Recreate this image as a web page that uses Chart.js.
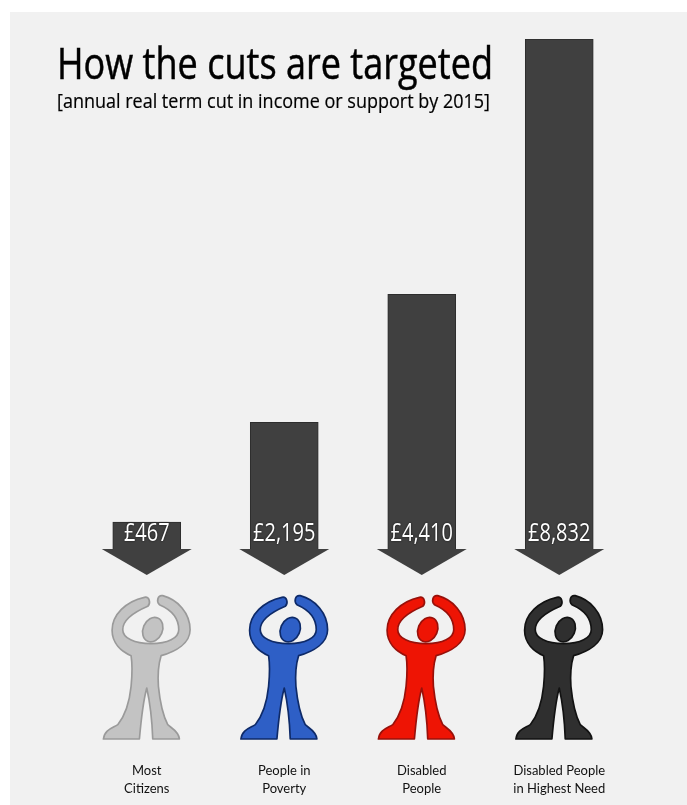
<!DOCTYPE html>
<html>
<head>
<meta charset="utf-8">
<title>How the cuts are targeted</title>
<style>
  html, body { margin: 0; padding: 0; background: #fff; }
  #wrap { position: relative; width: 687px; height: 805px; }
  canvas { display: block; }
</style>
<script src="https://cdn.jsdelivr.net/npm/chart.js@4"></script>
</head>
<body>
<div id="wrap"><canvas id="cuts" width="687" height="805"></canvas></div>
<script>
const categories = [
  ["Most", "Citizens"],
  ["People in", "Poverty"],
  ["Disabled", "People"],
  ["Disabled People", "in Highest Need"],
];
const cutValues = [467, 2195, 4410, 8832];
const valueLabels = ["£467", "£2,195", "£4,410", "£8,832"];
const figureFills = ["#c3c3c3", "#2e5fc6", "#ee1404", "#2f2f2f"];
const figureLines = ["#9a9a9a", "#0e2a68", "#98100a", "#121212"];

const BAR_FILL = "#404040";
const BAR_LINE = "#2d2d2d";

// little person with raised arms, drawn around (0,0) = under the arrow tip, feet at y=0
function drawFigure(ctx, cx, feetY, fill, line) {
  ctx.save();
  ctx.translate(cx, feetY);
  ctx.scale(1 / 3, 1 / 3);
  ctx.translate(-172, -718);
  ctx.beginPath();
  ctx.moveTo(165, 293);
  ctx.bezierCurveTo(110, 305, 68, 345, 68, 392);
  ctx.bezierCurveTo(68, 430, 95, 455, 125, 468);
  ctx.bezierCurveTo(130, 500, 128, 530, 125, 560);
  ctx.bezierCurveTo(120, 610, 105, 650, 85, 675);
  ctx.bezierCurveTo(70, 685, 45, 690, 42, 718);
  ctx.lineTo(150, 718);
  ctx.bezierCurveTo(155, 660, 160, 610, 172, 565);
  ctx.bezierCurveTo(182, 610, 188, 660, 190, 718);
  ctx.lineTo(270, 718);
  ctx.bezierCurveTo(268, 695, 245, 685, 235, 675);
  ctx.bezierCurveTo(222, 650, 212, 610, 207, 560);
  ctx.bezierCurveTo(205, 530, 205, 500, 215, 468);
  ctx.bezierCurveTo(260, 455, 302, 430, 302, 390);
  ctx.bezierCurveTo(302, 340, 265, 300, 220, 288);
  ctx.bezierCurveTo(205, 285, 200, 305, 210, 315);
  ctx.bezierCurveTo(245, 330, 268, 355, 268, 390);
  ctx.bezierCurveTo(268, 415, 235, 432, 185, 432);
  ctx.bezierCurveTo(135, 432, 100, 415, 100, 390);
  ctx.bezierCurveTo(100, 360, 140, 335, 175, 320);
  ctx.bezierCurveTo(185, 310, 180, 290, 165, 293);
  ctx.closePath();
  ctx.fillStyle = fill;
  ctx.strokeStyle = line;
  ctx.lineWidth = 5;
  ctx.lineJoin = "round";
  ctx.fill();
  ctx.stroke();
  // head
  ctx.beginPath();
  ctx.ellipse(190, 390, 29, 38, 0.4, 0, Math.PI * 2);
  ctx.fill();
  ctx.stroke();
  ctx.restore();
}

// text squeezed horizontally to a set width, the installed fonts run wide
function drawSqueezed(ctx, text, x, y, width) {
  const natural = ctx.measureText(text).width;
  ctx.save();
  ctx.translate(x, y);
  ctx.scale(width / natural, 1);
  ctx.fillText(text, 0, 0);
  ctx.strokeText(text, 0, 0);
  ctx.restore();
}

const cutsDecor = {
  id: "cutsDecor",
  beforeDraw(chart) {
    const { ctx, width, height } = chart;
    ctx.save();
    ctx.fillStyle = "#f1f1f1";
    ctx.fillRect(10, 12, width - 10, height - 12);
    ctx.restore();
  },
  afterDatasetsDraw(chart) {
    const { ctx } = chart;
    const base = chart.scales.y.getPixelForValue(0);
    const bars = chart.getDatasetMeta(0).data;

    bars.forEach((bar, i) => {
      // arrow head under each bar
      ctx.beginPath();
      ctx.moveTo(bar.x - 45, base);
      ctx.lineTo(bar.x + 45, base);
      ctx.lineTo(bar.x, base + 26);
      ctx.closePath();
      ctx.fillStyle = BAR_FILL;
      ctx.fill();

      drawFigure(ctx, bar.x, base + 190, figureFills[i], figureLines[i]);

      // amount on the bar
      ctx.save();
      ctx.font = '25px "Open Sans"';
      ctx.textAlign = "center";
      ctx.textBaseline = "middle";
      ctx.translate(bar.x, base - 15);
      ctx.scale(0.8, 1);
      ctx.fillStyle = "#fff";
      ctx.shadowColor = "#111";
      ctx.shadowBlur = 2;
      ctx.fillText(valueLabels[i], 0, 0);
      ctx.restore();
    });

    // heading
    ctx.save();
    ctx.fillStyle = "#000";
    ctx.strokeStyle = "#000";
    ctx.lineWidth = 0.5;
    ctx.textBaseline = "alphabetic";
    ctx.textAlign = "left";
    ctx.font = '44px "Open Sans"';
    drawSqueezed(ctx, "How the cuts are targeted", 57, 79, 436);
    ctx.lineWidth = 0.2;
    ctx.font = '20px "Open Sans"';
    drawSqueezed(ctx, "[annual real term cut in income or support by 2015]", 57, 108, 433);
    ctx.restore();
  },
};

new Chart(document.getElementById("cuts"), {
  type: "bar",
  data: {
    labels: categories,
    datasets: [
      {
        data: cutValues,
        backgroundColor: BAR_FILL,
        borderColor: BAR_LINE,
        borderWidth: { top: 1, left: 1, right: 1, bottom: 0 },
        barThickness: 68,
      },
    ],
  },
  options: {
    responsive: false,
    animation: false,
    layout: { padding: { top: 39, left: 78, right: 59, bottom: 0 } },
    plugins: { legend: { display: false }, tooltip: { enabled: false } },
    scales: {
      x: {
        grid: { display: false },
        border: { display: false },
        ticks: {
          color: "#111",
          font: { family: "Lato", size: 13, lineHeight: 1.4 },
          maxRotation: 0,
          autoSkip: false,
          padding: 205,
        },
        // the big tick padding pushes the labels down, it must not also narrow the plot
        afterFit(scale) {
          scale.paddingLeft = 0;
          scale.paddingRight = 0;
          scale.height = 256;
        },
      },
      y: { display: false, min: 0, max: Math.max(...cutValues) },
    },
  },
  plugins: [cutsDecor],
});
</script>
</body>
</html>
